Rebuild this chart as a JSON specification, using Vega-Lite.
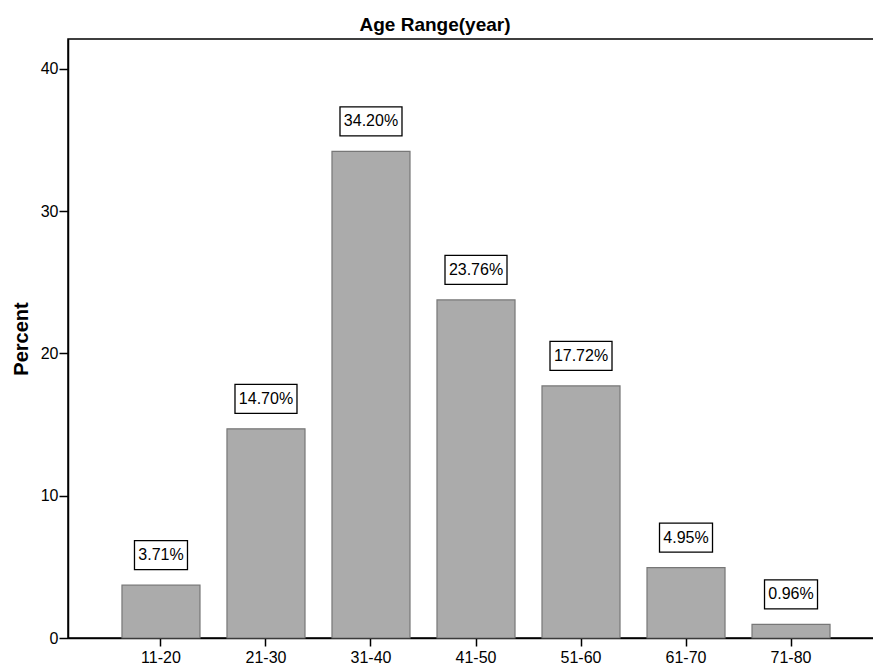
{
  "$schema": "https://vega.github.io/schema/vega-lite/v6.json",
  "autosize": {"type": "none"},
  "padding": {"left": 68, "top": 39, "right": 0, "bottom": 27},
  "width": 816,
  "height": 599,
  "title": {"text": "Age Range(year)", "font": "Liberation Sans", "fontSize": 19, "fontWeight": "bold", "color": "black", "offset": 4, "dx": -41},
  "config": {"view": {"stroke": "black", "strokeWidth": 1.5}, "font": "Liberation Sans", "background": "white"},
  "data": {"values": [
    {"age": "11-20", "percent": 3.71, "label": "3.71%"},
    {"age": "21-30", "percent": 14.70, "label": "14.70%"},
    {"age": "31-40", "percent": 34.20, "label": "34.20%"},
    {"age": "41-50", "percent": 23.76, "label": "23.76%"},
    {"age": "51-60", "percent": 17.72, "label": "17.72%"},
    {"age": "61-70", "percent": 4.95, "label": "4.95%"},
    {"age": "71-80", "percent": 0.96, "label": "0.96%"}
  ]},
  "encoding": {
    "x": {"field": "age", "type": "ordinal", "sort": null,
      "scale": {"paddingInner": 0.257, "paddingOuter": 0.514},
      "axis": {"title": null, "labelAngle": 0, "labelFontSize": 16, "labelColor": "black", "tickColor": "black", "tickSize": 8, "tickWidth": 1.5, "domainColor": "black", "domainWidth": 1.5, "labelPadding": 3}},
    "y": {"field": "percent", "type": "quantitative",
      "scale": {"domain": [0, 42.1], "nice": false},
      "axis": {"title": "Percent", "titleFontSize": 20, "titleFontWeight": "bold", "titleColor": "black", "titlePadding": 9, "values": [0, 10, 20, 30, 40], "grid": false, "labelFontSize": 16, "labelColor": "black", "tickColor": "black", "tickSize": 9, "tickWidth": 1.5, "domainColor": "black", "domainWidth": 1.5, "labelPadding": 1}}
  },
  "layer": [
    {"mark": {"type": "bar", "fill": "#ababab", "stroke": "#777777", "strokeWidth": 1.2}},
    {"transform": [{"filter": "datum.percent >= 10"}],
     "mark": {"type": "point", "shape": "M-1,-0.468H1V0.468H-1Z", "size": 3844, "filled": true, "fill": "white", "stroke": "black", "strokeWidth": 1.3, "opacity": 1, "yOffset": -30}},
    {"transform": [{"filter": "datum.percent < 10"}],
     "mark": {"type": "point", "shape": "M-1,-0.547H1V0.547H-1Z", "size": 2809, "filled": true, "fill": "white", "stroke": "black", "strokeWidth": 1.3, "opacity": 1, "yOffset": -30}},
    {"mark": {"type": "text", "yOffset": -30, "fontSize": 16, "baseline": "middle", "color": "black"},
     "encoding": {"text": {"field": "label"}}}
  ]
}
